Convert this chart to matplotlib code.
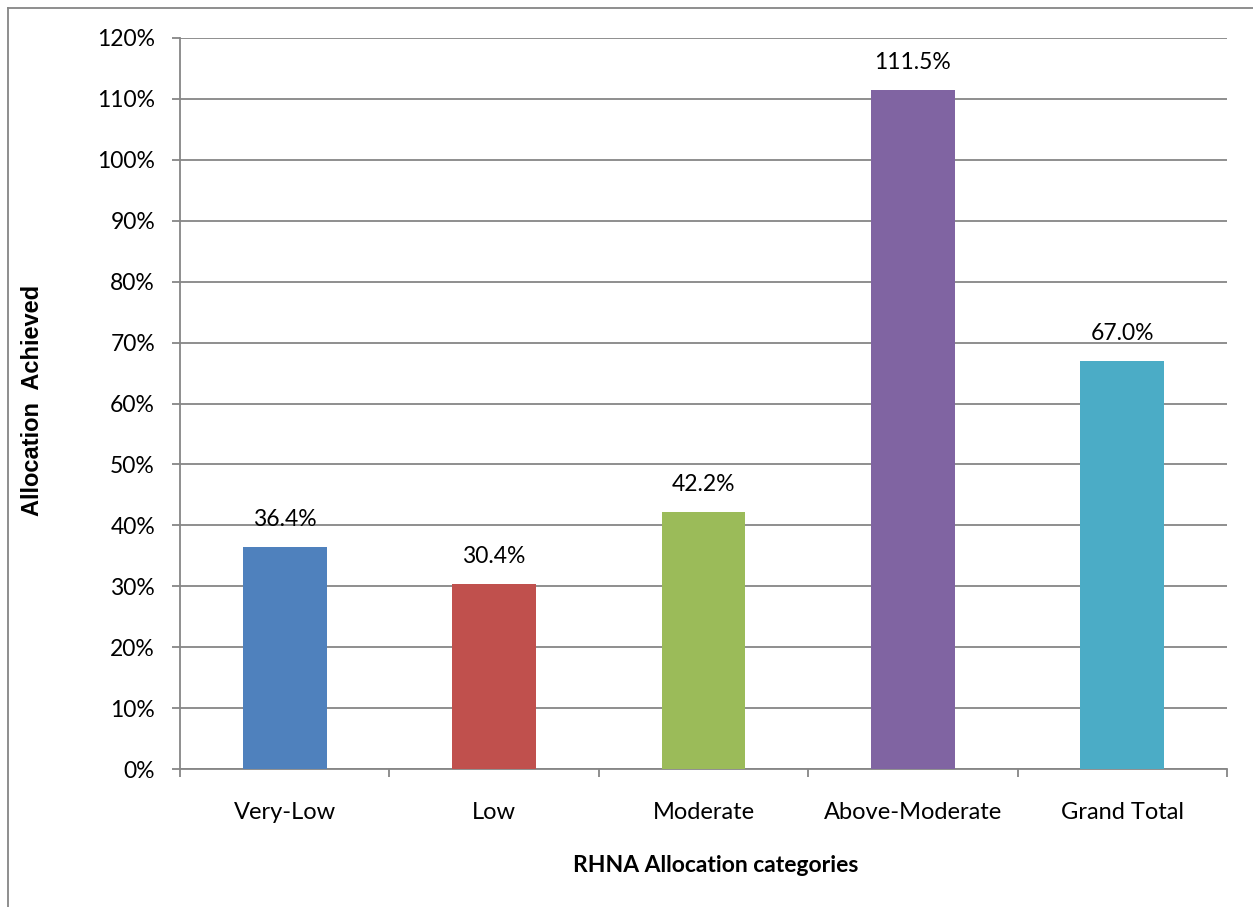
import numpy as np
import matplotlib.pyplot as plt
from matplotlib.ticker import FuncFormatter

# RHNA allocation achieved, by income category
categories = ["Very-Low", "Low", "Moderate", "Above-Moderate", "Grand Total"]
achieved = [36.4, 30.4, 42.2, 111.5, 67.0]
colors = ["#4F81BD", "#C0504D", "#9BBB59", "#8064A2", "#4BACC6"]

plt.rcParams['font.family'] = ['Lato', 'DejaVu Sans']
grey = "#868686"
fs = 16.5

fig = plt.figure(figsize=(12.53, 9.07), dpi=100)
ax = fig.add_axes([180 / 1253, 1 - 769 / 907, (1227 - 180) / 1253, (769 - 38) / 907])

x = np.arange(len(categories))
bars = ax.bar(x, achieved, width=0.4, color=colors, zorder=3)

for xi, v in zip(x, achieved):
    ax.annotate(f"{v:.1f}%", (xi, v), xytext=(0, 20), textcoords="offset points",
                ha="center", va="center", fontsize=fs)

ax.set_xlim(-0.5, len(categories) - 0.5)
ax.set_ylim(0, 120)
ax.set_yticks(np.arange(0, 121, 10))
ax.yaxis.set_major_formatter(FuncFormatter(lambda v, p: f"{v:.0f}%"))
ax.yaxis.grid(True, color=grey, linewidth=1.3, zorder=0)

ax.set_xticks(x)
ax.set_xticklabels(categories)
ax.set_xticks(np.arange(-0.5, len(categories), 1), minor=True)
ax.tick_params(axis="x", which="major", length=0, pad=24, labelsize=17)
ax.tick_params(axis="x", which="minor", length=6, color=grey, width=1.3)
ax.tick_params(axis="y", length=6, color=grey, width=1.3, pad=12, labelsize=fs)

for side in ["top", "right"]:
    ax.spines[side].set_visible(False)
for side in ["left", "bottom"]:
    ax.spines[side].set_color(grey)
    ax.spines[side].set_linewidth(1.3)

ax.set_xlabel("RHNA Allocation categories", fontsize=fs, fontweight="bold", va="center")
ax.xaxis.set_label_coords((716 - 180) / 1047, (769 - 866) / 731)
ax.set_ylabel("Allocation  Achieved", fontsize=17, fontweight="bold", va="center",
              family=["Liberation Sans", "DejaVu Sans"])
ax.yaxis.set_label_coords((33 - 180) / 1047, (769 - 400) / 731)

# chart frame, left and top edges
fig.add_artist(plt.Line2D([8 / 1253, 8 / 1253], [1 - 8 / 907, 0], color=grey, linewidth=1.3,
                          transform=fig.transFigure))
fig.add_artist(plt.Line2D([8 / 1253, 1], [1 - 8 / 907, 1 - 8 / 907], color=grey, linewidth=1.3,
                          transform=fig.transFigure))

fig.savefig("out.png", dpi=100)
